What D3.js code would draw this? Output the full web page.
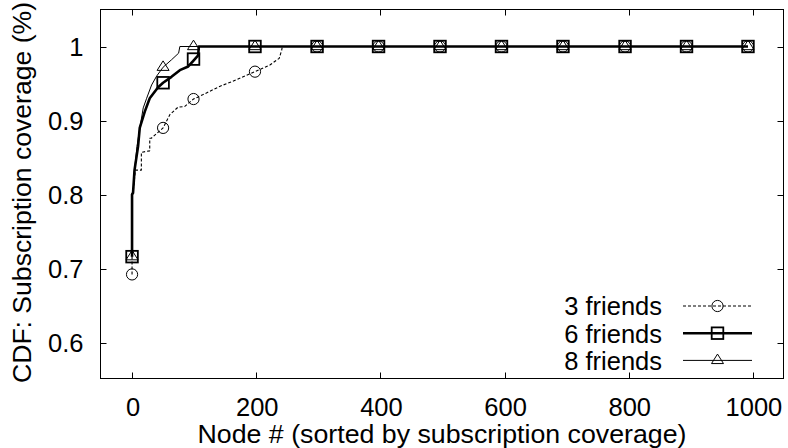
<!DOCTYPE html>
<html>
<head>
<meta charset="utf-8">
<script src="https://cdn.jsdelivr.net/npm/d3@7/dist/d3.min.js"></script>
<style>
  html, body { margin: 0; padding: 0; background: #fff; }
  svg { display: block; }
  text { font-family: "Liberation Sans", Arial, Helvetica, sans-serif; fill: #000; }
</style>
</head>
<body>
<svg id="chart" width="788" height="448"></svg>
<script>
// Sorted per-node subscription coverage, as [node, coverage] breakpoints
const friends3 = [
  [0, 0.692], [0, 0.802], [1.6, 0.802], [5.4, 0.833], [15, 0.833], [15, 0.857],
  [28.5, 0.859], [28.5, 0.876], [31, 0.876], [50, 0.890], [61, 0.908], [74, 0.918],
  [85, 0.919], [99, 0.929], [114.5, 0.935], [141, 0.946], [168, 0.955], [198, 0.966],
  [222, 0.975], [237, 0.984], [241, 0.995], [242, 1.0], [992, 1.0]
];
const friends6 = [
  [0, 0.716], [0, 0.800], [1.6, 0.802], [4, 0.833], [9.7, 0.865], [12.4, 0.890],
  [20.5, 0.912], [28.5, 0.930], [42, 0.945], [50, 0.951], [63.5, 0.959], [77, 0.968],
  [90.5, 0.973], [99, 0.981], [106.5, 0.988], [107.5, 1.0], [992, 1.0]
];
const friends8 = [
  [0, 0.716], [0, 0.800], [1.6, 0.802], [4, 0.833], [8, 0.865], [11.6, 0.885],
  [18, 0.917], [23.5, 0.930], [31.5, 0.948], [39.6, 0.960], [50, 0.972], [63.5, 0.982],
  [75, 0.991], [77, 1.0], [992, 1.0]
];

// Nodes where point symbols are placed, and the coverage at each
const markerNodes = [0, 50, 99, 198, 298, 397, 496, 595, 694, 794, 893, 992];
const markers3 = [0.692, 0.890, 0.929, 0.966, 1, 1, 1, 1, 1, 1, 1, 1];
const markers6 = [0.716, 0.951, 0.983, 1, 1, 1, 1, 1, 1, 1, 1, 1];
const markers8 = [0.716, 0.972, 1, 1, 1, 1, 1, 1, 1, 1, 1, 1];

const seriesNames = ["3 friends", "6 friends", "8 friends"];
const xTicks = [0, 200, 400, 600, 800, 1000];
const yTicks = [0.6, 0.7, 0.8, 0.9, 1];

const svg = d3.select("#chart");
const frame = { left: 100.5, right: 783.5, top: 9.5, bottom: 378.5 };

const x = d3.scaleLinear().domain([-50, 1050]).range([101, 784]);
const y = d3.scaleLinear().domain([0.55, 1.05]).range([379.5, 9.5]);

const styles = [
  { width: 1.1, dash: "3,2", marker: "circle", mstroke: 1 },
  { width: 2.6, dash: null, marker: "square", mstroke: 1.8 },
  { width: 1.0, dash: null, marker: "triangle", mstroke: 1 }
];
const curves = [friends3, friends6, friends8];
const markerVals = [markers3, markers6, markers8];

// plot frame
svg.append("rect")
  .attr("x", frame.left).attr("y", frame.top)
  .attr("width", frame.right - frame.left).attr("height", frame.bottom - frame.top)
  .attr("fill", "none").attr("stroke", "#000").attr("stroke-width", 1);

// inward ticks on all four sides
const tickLen = 6;
const ax = svg.append("g").attr("stroke", "#000").attr("stroke-width", 1);
xTicks.forEach(t => {
  const px = Math.round(x(t)) + 0.5;
  ax.append("line").attr("x1", px).attr("x2", px).attr("y1", frame.bottom).attr("y2", frame.bottom - tickLen);
  ax.append("line").attr("x1", px).attr("x2", px).attr("y1", frame.top).attr("y2", frame.top + tickLen);
});
yTicks.forEach(t => {
  const py = Math.round(y(t)) + 0.5;
  ax.append("line").attr("x1", frame.left).attr("x2", frame.left + tickLen).attr("y1", py).attr("y2", py);
  ax.append("line").attr("x1", frame.right).attr("x2", frame.right - tickLen).attr("y1", py).attr("y2", py);
});

// tick labels
svg.append("g").selectAll("text").data(xTicks).join("text")
  .attr("x", d => x(d) + 1).attr("y", 416)
  .attr("text-anchor", "middle").attr("font-size", 25.5)
  .text(d => d);
svg.append("g").selectAll("text").data(yTicks).join("text")
  .attr("x", 83.5).attr("y", d => y(d) + 9.3)
  .attr("text-anchor", "end").attr("font-size", 25.5)
  .text(d => d3.format("")(d));

// axis titles
svg.append("text")
  .attr("x", 197.5).attr("y", 443)
  .attr("text-anchor", "start").attr("font-size", 26)
  .attr("textLength", 489).attr("lengthAdjust", "spacingAndGlyphs")
  .text("Node # (sorted by subscription coverage)");
svg.append("text")
  .attr("transform", "translate(30.5,383) rotate(-90)")
  .attr("text-anchor", "start").attr("font-size", 26)
  .attr("textLength", 381).attr("lengthAdjust", "spacingAndGlyphs")
  .text("CDF: Subscription coverage (%)");

// point symbols
function drawMarker(g, kind, cx, cy, sw) {
  if (kind === "circle") {
    g.append("circle").attr("cx", cx).attr("cy", cy).attr("r", 5.6)
      .attr("fill", "none").attr("stroke", "#000").attr("stroke-width", sw);
  } else if (kind === "square") {
    g.append("rect").attr("x", cx - 5.8).attr("y", cy - 5.8).attr("width", 11.6).attr("height", 11.6)
      .attr("fill", "none").attr("stroke", "#000").attr("stroke-width", sw);
  } else {
    const h = 9.5, w = 6;
    g.append("path")
      .attr("d", `M${cx},${cy - 2 * h / 3}L${cx + w},${cy + h / 3}L${cx - w},${cy + h / 3}Z`)
      .attr("fill", "none").attr("stroke", "#000").attr("stroke-width", sw);
  }
}

const line = d3.line().x(d => x(d[0])).y(d => y(d[1]));
const plot = svg.append("g");
curves.forEach((c, i) => {
  const s = styles[i];
  const g = plot.append("g");
  g.append("path").datum(c).attr("d", line)
    .attr("fill", "none").attr("stroke", "#000")
    .attr("stroke-width", s.width)
    .attr("stroke-dasharray", s.dash)
    .attr("stroke-linejoin", "round");
  markerNodes.forEach((n, k) => drawMarker(g, s.marker, x(n), y(markerVals[i][k]), s.mstroke));
});

// key
const legend = svg.append("g");
seriesNames.forEach((name, i) => {
  const s = styles[i];
  const ly = 306 + i * 27.2;
  legend.append("text").attr("x", 662).attr("y", ly + 9.3)
    .attr("text-anchor", "end").attr("font-size", 25.5).text(name);
  legend.append("line").attr("x1", 683).attr("x2", 752).attr("y1", ly).attr("y2", ly)
    .attr("stroke", "#000").attr("stroke-width", s.width).attr("stroke-dasharray", s.dash);
  drawMarker(legend, s.marker, 717.5, ly, s.mstroke);
});
</script>
</body>
</html>
